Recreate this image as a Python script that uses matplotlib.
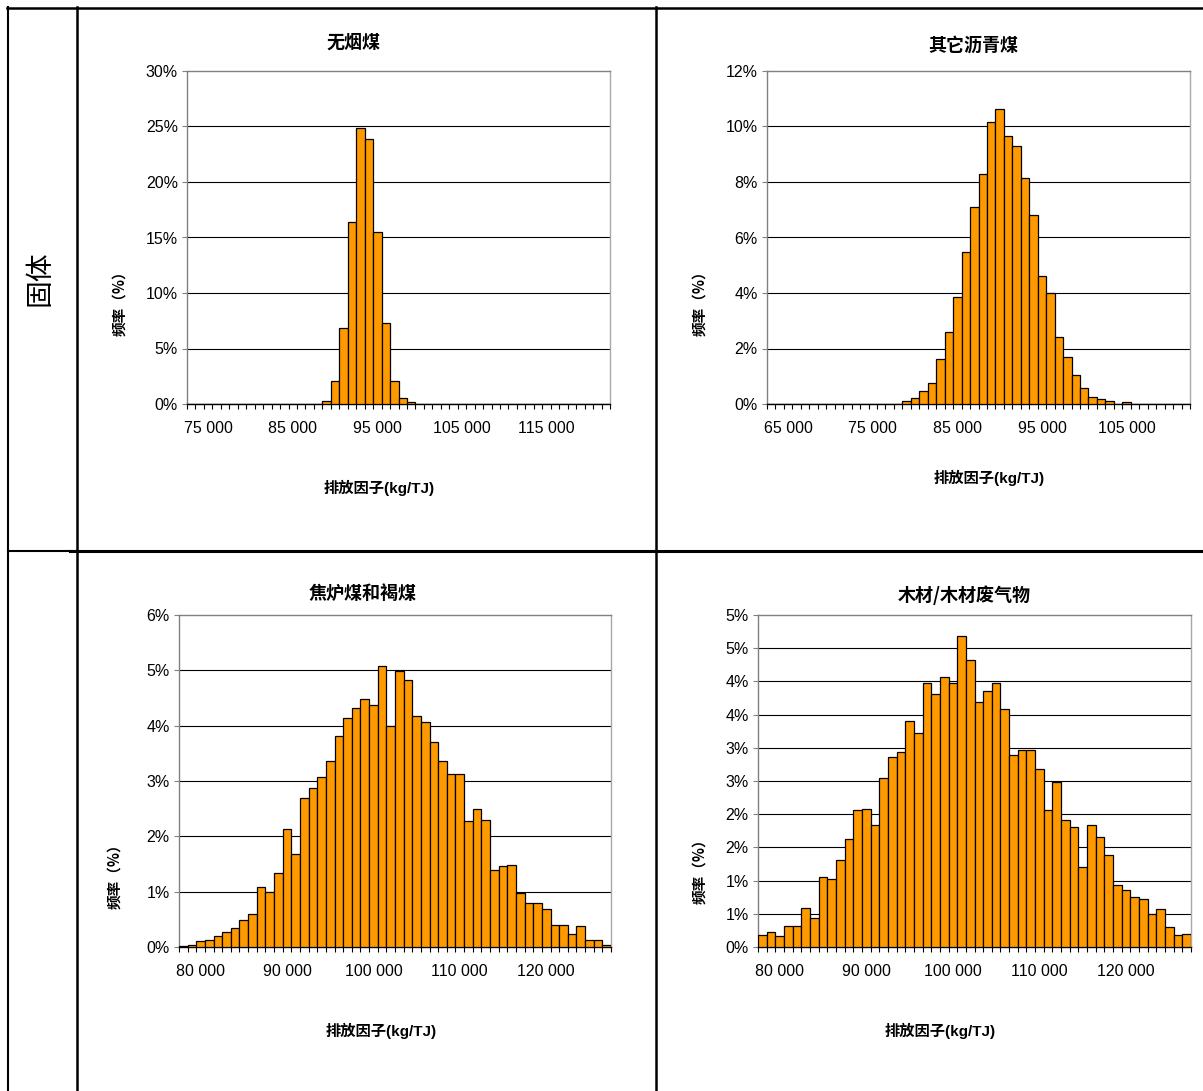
import matplotlib
matplotlib.use("Agg")
import matplotlib.pyplot as plt
import numpy as np

plt.rcParams['font.family'] = ['Liberation Sans', 'Noto Sans CJK SC', 'DejaVu Sans']
plt.rcParams['axes.unicode_minus'] = False

W, H = 1203, 1091

# ---- data (频率 %) ----
anthracite_start = 73000
anthracite_freq = [0] * 16 + [0.3, 2.07, 6.82, 16.4, 24.9, 23.9, 15.5, 7.33, 2.07, 0.51, 0.15] + [0] * 23

bitum_start = 63000
bitum_freq = [0] * 16 + [0.10, 0.22, 0.47, 0.77, 1.63, 2.58, 3.84, 5.49, 7.09, 8.29,
                         10.15, 10.63, 9.67, 9.29, 8.16, 6.82, 4.61, 4.01, 2.43, 1.69,
                         1.03, 0.56, 0.25, 0.17, 0.10, 0, 0.06] + [0] * 7

coke_start = 78000
coke_freq = [0.01, 0.04, 0.11, 0.13, 0.19, 0.28, 0.34, 0.49, 0.60, 1.08,
             0.99, 1.33, 2.13, 1.68, 2.69, 2.87, 3.07, 3.37, 3.82, 4.14,
             4.32, 4.49, 4.38, 5.08, 4.00, 4.99, 4.82, 4.17, 4.06, 3.70,
             3.37, 3.13, 3.13, 2.27, 2.50, 2.29, 1.40, 1.47, 1.49, 0.97,
             0.79, 0.79, 0.69, 0.40, 0.40, 0.23, 0.38, 0.13, 0.13, 0.04]

wood_start = 78000
wood_freq = [0.18, 0.22, 0.16, 0.32, 0.32, 0.59, 0.43, 1.06, 1.02, 1.31,
             1.63, 2.06, 2.08, 1.83, 2.54, 2.86, 2.93, 3.40, 3.23, 3.98,
             3.81, 4.06, 3.98, 4.68, 4.32, 3.69, 3.85, 3.98, 3.58, 2.89,
             2.96, 2.96, 2.68, 2.06, 2.48, 1.92, 1.81, 1.20, 1.83, 1.65,
             1.38, 0.93, 0.86, 0.75, 0.72, 0.50, 0.57, 0.30, 0.18, 0.20]

titles = ['无烟煤', '其它沥青煤', '焦炉煤和褐煤', '木材/木材废气物']
yticks_list = [
    [0, 5, 10, 15, 20, 25, 30],
    [0, 2, 4, 6, 8, 10, 12],
    [0, 1, 2, 3, 4, 5, 6],
    [0, 0.5, 1, 1.5, 2, 2.5, 3, 3.5, 4, 4.5, 5],
]
ytick_labels_list = [
    ['0%', '5%', '10%', '15%', '20%', '25%', '30%'],
    ['0%', '2%', '4%', '6%', '8%', '10%', '12%'],
    ['0%', '1%', '2%', '3%', '4%', '5%', '6%'],
    ['0%', '1%', '1%', '2%', '2%', '3%', '3%', '4%', '4%', '5%', '5%'],
]
xlabel = '排放因子(kg/TJ)'
ylabel = '频率（%）'
row_label = '固体'


def px_rect(l, t, r, b):
    return [l / W, 1 - b / H, (r - l) / W, (b - t) / H]


def draw_hist(ax, start, freq, yticks, yticklabels):
    n = len(freq)
    cats = start + 1000 * np.arange(n)
    pos = np.arange(n)
    ax.bar(pos, freq, width=1.0, color='#FF9900', edgecolor='black', linewidth=0.9, zorder=3)
    ax.set_xlim(-0.5, n - 0.5)
    ax.set_ylim(yticks[0], yticks[-1])
    ax.set_yticks(yticks)
    ax.set_yticklabels(yticklabels)
    for y in yticks[1:-1]:
        ax.axhline(y, color='black', lw=0.8, zorder=1)
    # 每10个分组标一次
    lab_idx = list(range(2, n - 2, 10))
    ax.set_xticks(lab_idx)
    ax.set_xticklabels([f"{cats[i]:,}".replace(',', ' ') for i in lab_idx])
    ax.set_xticks(np.arange(n + 1) - 0.5, minor=True)
    ax.tick_params(axis='x', which='major', length=0, pad=12, labelsize=11.5)
    ax.tick_params(axis='x', which='minor', length=3.6, width=0.8, color='black', direction='out')
    ax.tick_params(axis='y', which='major', length=3.6, width=0.8, color='#808080', pad=3, labelsize=11.5)
    ax.spines['left'].set_color('#808080')
    ax.spines['bottom'].set_color('black')
    ax.spines['top'].set_color('#808080')
    ax.spines['right'].set_color('#A8A8A8')
    for s in ax.spines.values():
        s.set_linewidth(1.0)


fig = plt.figure(figsize=(W / 100, H / 100), dpi=100)

# table frame
bg = fig.add_axes([0, 0, 1, 1], zorder=-5)
bg.set_xlim(0, W)
bg.set_ylim(H, 0)
bg.axis('off')
bg.plot([7, W], [7.5, 7.5], color='black', lw=1.8)
bg.plot([8, 8], [7, H], color='black', lw=1.5)
bg.plot([77, 77], [7, H], color='black', lw=1.8)
bg.plot([656, 656], [7, H], color='black', lw=1.8)
bg.plot([8, 77], [550.5, 550.5], color='black', lw=1.5)
bg.plot([70, W], [551, 551], color='black', lw=2.2)
bg.text(40, 278, row_label, fontsize=20, rotation=90, ha='center', va='center',
        family=['Noto Sans CJK SC'])

rects = [px_rect(187, 71, 610, 404), px_rect(767, 71, 1190, 404),
         px_rect(179, 615, 611, 947), px_rect(758, 615, 1191, 947)]
starts = [anthracite_start, bitum_start, coke_start, wood_start]
freqs = [anthracite_freq, bitum_freq, coke_freq, wood_freq]

title_pos = [(353, 42), (973, 45), (363, 593), (964, 595)]
xlab_pos = [(379, 488), (989, 478), (381, 1031), (940, 1031)]
ylab_pos = [(119, 300), (699, 300), (114, 873), (699, 868)]

for k in range(4):
    ax = fig.add_axes(rects[k])
    draw_hist(ax, starts[k], freqs[k], yticks_list[k], ytick_labels_list[k])
    tx, ty = title_pos[k]
    fig.text(tx / W, 1 - ty / H, titles[k], ha='center', va='center', fontsize=13,
             fontweight='bold', family=['Noto Sans CJK SC'])
    xx, xy = xlab_pos[k]
    fig.text(xx / W, 1 - xy / H, xlabel, ha='center', va='center', fontsize=11,
             fontweight='bold', family=['Liberation Sans', 'Noto Sans CJK SC'])
    yx, yy = ylab_pos[k]
    fig.text(yx / W, 1 - yy / H, ylabel, ha='center', va='center', fontsize=10.5,
             fontweight='bold', rotation=90, family=['Noto Sans CJK SC'])

fig.savefig('out.png', dpi=100, facecolor='white')
